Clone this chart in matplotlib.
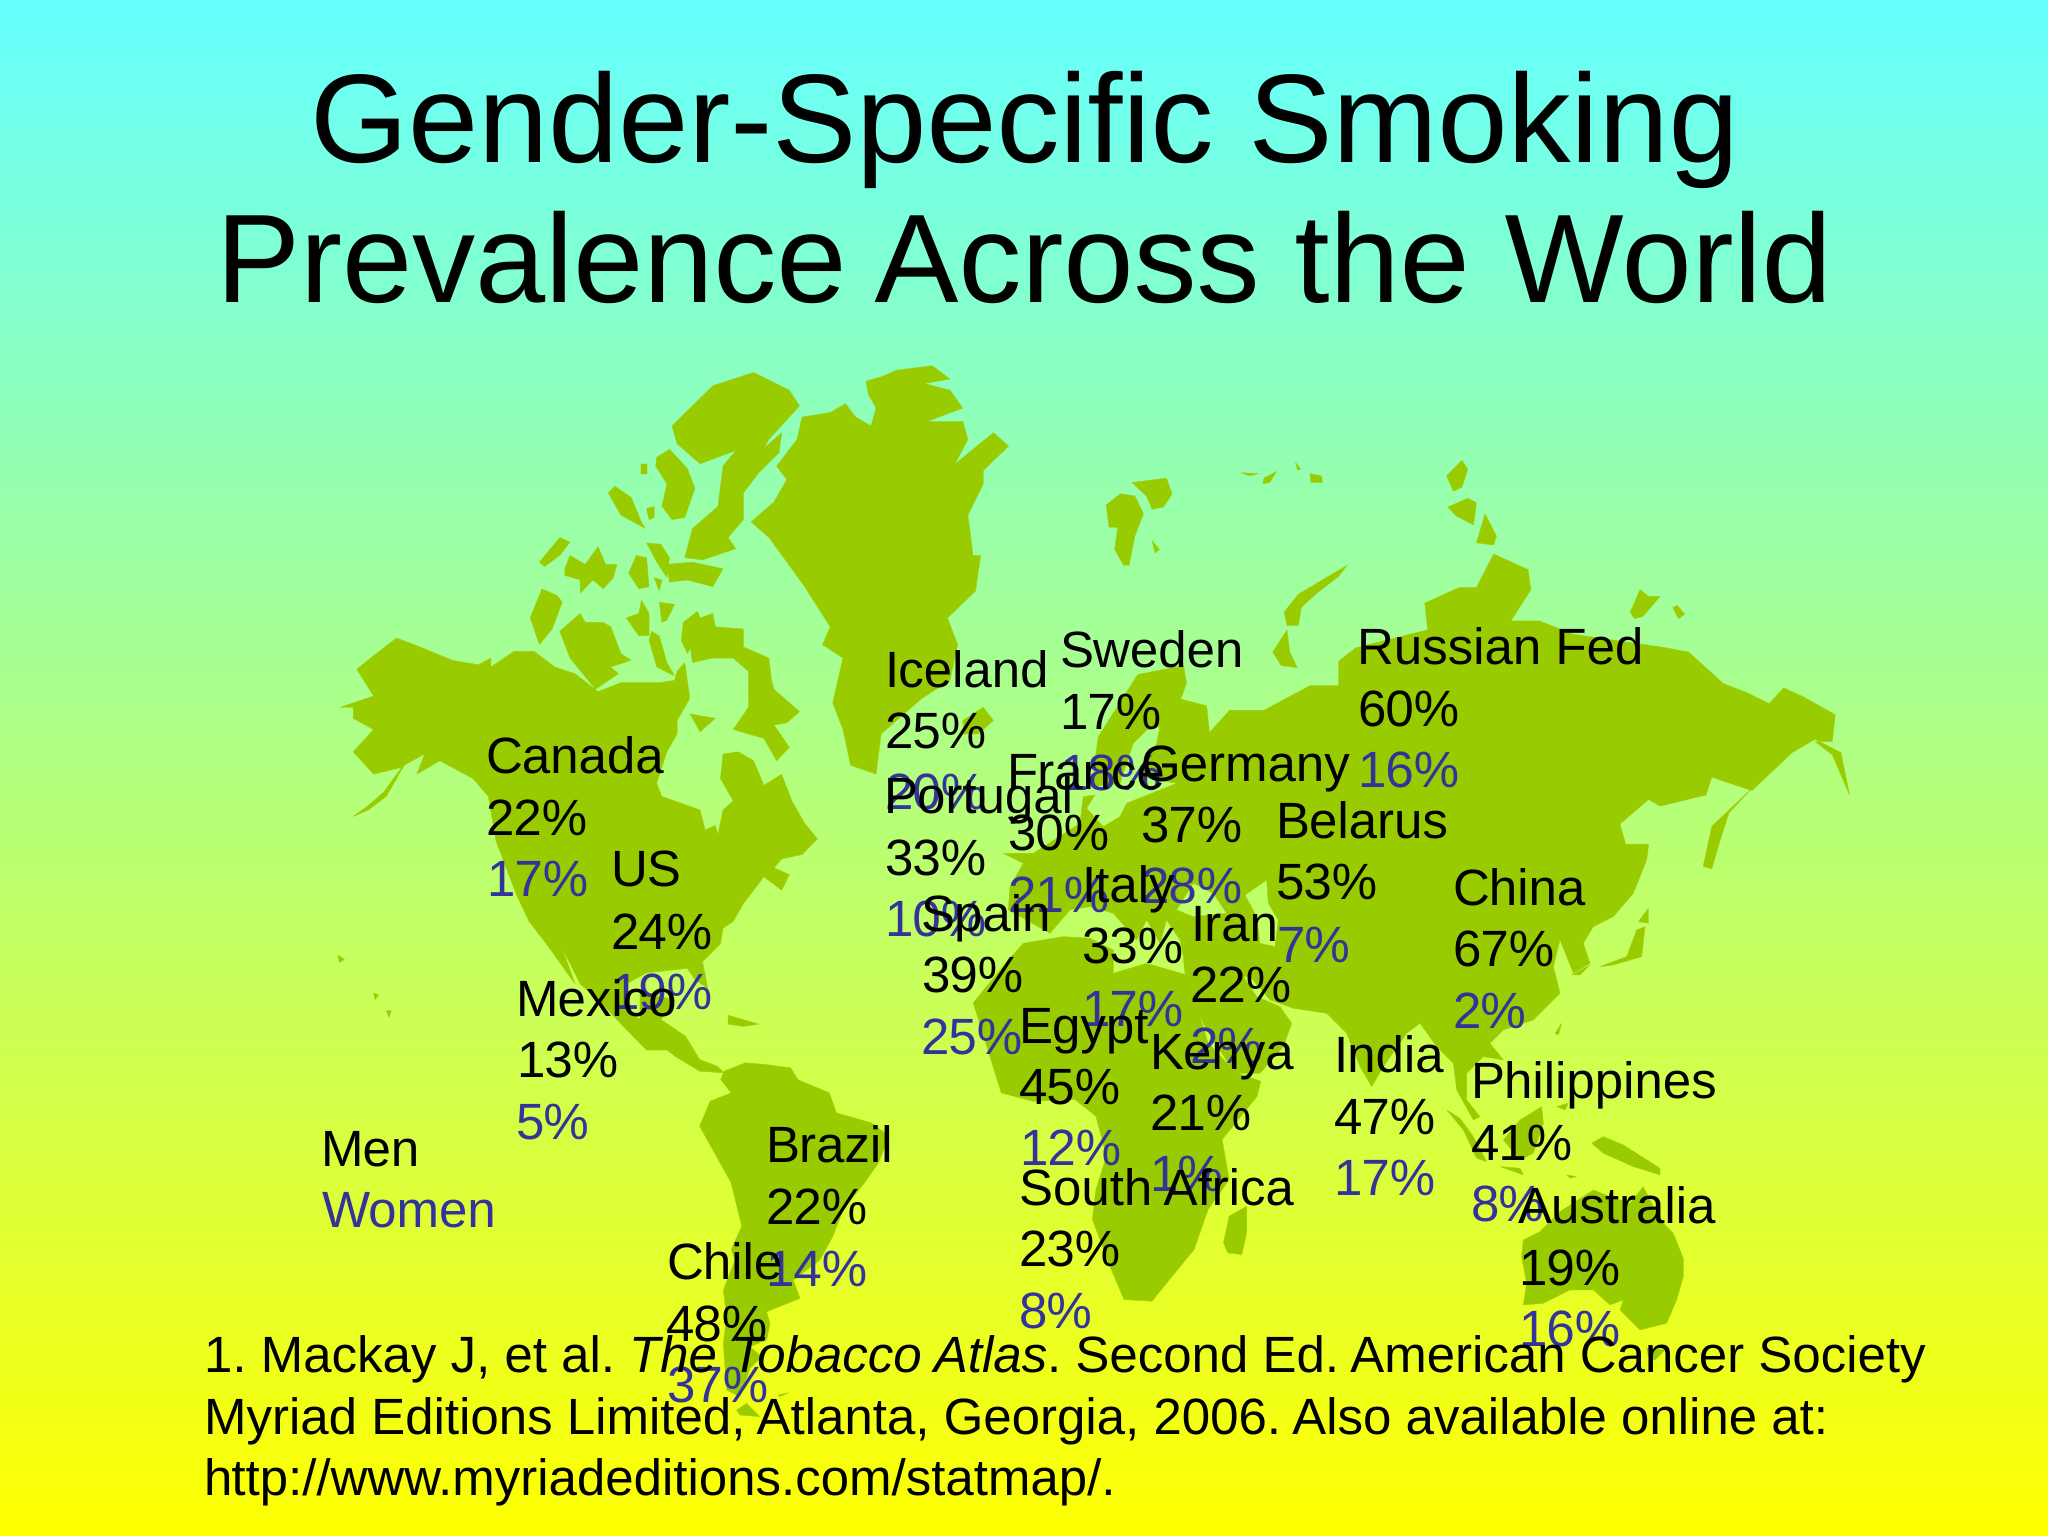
import numpy as np
import matplotlib
matplotlib.use("Agg")
import matplotlib.pyplot as plt
from matplotlib.path import Path
from matplotlib.patches import PathPatch

plt.rcParams['font.family'] = ['Liberation Sans', 'DejaVu Sans']
plt.rcParams['text.hinting'] = 'no_hinting'
plt.rcParams['text.hinting_factor'] = 1

countries = ["Iceland","Sweden","Russian Fed","Canada","France","Germany","Portugal","Belarus","US","China",
             "Italy","Spain","Iran","Mexico","Egypt","Kenya","India","Philippines","Brazil","South Africa","Australia","Chile"]
men   = [25,17,60,22,30,37,33,53,24,67,33,39,22,13,45,21,47,41,22,23,19,48]
women = [20,18,16,17,21,28,10,7,19,2,17,25,2,5,12,1,17,8,14,8,16,37]
label_x = [677,811,1039,372,771,873,677,977,467,1112,828,705,911,395,780,880,1021,1126,586,780,1162,510]
label_y = [526,511,509,592,604,598,623,642,679,693,691,713,720,778,798,818,821,841,890,923,937,980]

title_lines = ["Gender-Specific Smoking", "Prevalence Across the World"]
legend_labels = ["Men", "Women"]
footer_line2 = "Myriad Editions Limited, Atlanta, Georgia, 2006. Also available online at:"
footer_line3 = "http://www.myriadeditions.com/statmap/."

# base-map outline, traced in local frames of the picture
F1 = (245.0, 268.0, .3906, .3418)
F2 = (765.6, 321.6, .4395, .3418)
F3 = (490.0, 727.0, .537, .2552)
F4 = (750.3, 520.6, .2552, .2552)
F5 = (949.4, 658.4, .2552, .2552)
F6 = (1133.1, 903.4, .2552, .2552)
F7 = (505.3, 949.4, .2552, .2552)

def tr(frame, pts):
    a = np.array(pts, float)
    return np.column_stack([frame[0] + a[:, 0]*frame[2], frame[1] + a[:, 1]*frame[3]])

north_america = tr(F1, [(72,715),(110,680),(150,645),(185,660),(260,695),(310,705),(335,690),(335,710),(380,675),(420,675),(460,710),(500,725),(545,765),(590,745),(640,745),(665,745),(695,740),(700,720),(715,700),(725,780),(700,830),(700,860),(680,900),(660,970),(670,1000),(745,1030),(755,1075),(775,1065),(780,1085),(790,1030),(810,1010),(785,960),(790,905),(820,900),(850,920),(870,975),(905,950),(925,1010),(950,1060),(975,1095),(945,1130),(905,1140),(890,1160),(920,1175),(905,1210),(870,1180),(830,1240),(810,1280),(790,1295),(785,1330),(750,1370),(760,1430),(735,1410),(720,1385),(640,1395),(600,1420),(610,1490),(650,1510),(680,1520),(700,1568),(640,1568),(590,1510),(550,1460),(510,1420),(475,1340),(500,1420),(450,1340),(410,1280),(385,1220),(345,1100),(330,1000),(300,960),(235,920),(190,950),(205,905),(165,930),(130,1000),(95,1030),(65,1045),(95,1020),(125,990),(160,935),(105,950),(65,900),(105,850),(65,825),(65,800),(40,800),(105,775)])
central_america = tr(F3, [(0,130),(50,150),(30,210),(65,260),(85,330),(110,350),(120,370),(85,365),(50,320),(20,270),(0,230)])
south_america = np.vstack([
    tr(F3, [(120,365),(150,340),(180,345),(215,355),(225,390),(270,430),(280,490),(330,520),(355,560),(340,640),(320,700),(290,780),(275,860)]),
    tr(F7, [(480,60),(400,120),(420,175),(320,215),(330,250),(320,300),(270,320),(305,350),(270,385),(240,470),(200,450),(190,310),(200,230),(190,150),(225,60)]),
    tr(F3, [(130,900),(145,830),(130,700),(85,530),(100,455),(130,430),(115,390)]),
])
tierra = tr(F7, [(230,510),(260,490),(300,530),(240,525)])
falkland = tr(F7, [(355,465),(385,458),(360,470)])
greenland = tr(F1, [(1130,45),(1200,35),(1235,65),(1185,75),(1235,90),(1260,130),(1190,160),(1260,160),(1270,200),(1245,255),(1320,185),(1350,215),(1300,270),(1300,300),(1270,370),(1280,460),(1295,460),(1285,540),(1230,600),(1250,660),(1235,740),(1180,780),(1100,860),(1090,950),(1040,930),(1025,850),(1005,790),(1025,690),(985,660),(1000,620),(950,530),(880,420),(845,385),(890,340),(915,290),(895,260),(935,200),(945,150),(1000,140),(1030,120),(1050,150),(1080,170),(1090,130),(1075,100),(1070,70),(1100,60)])
iceland = tr(F1, [(1260,830),(1300,800),(1320,830),(1290,860),(1262,860)])
arctic_isles = [tr(F1, p) for p in [
    [(690,170),(770,80),(850,50),(920,90),(940,125),(880,200),(870,220),(905,185),(900,230),(860,275),(830,320),(830,380),(800,420),(815,445),(750,470),(715,465),(730,400),(780,350),(790,260),(815,225),(745,255),(700,210)],
    [(660,240),(685,222),(720,265),(735,310),(715,375),(690,380),(670,350),(680,300),(658,260)],
    [(565,320),(578,305),(610,330),(630,385),(638,400),(590,370)],
    [(630,255),(640,255),(640,278),(630,278)],
    [(640,355),(655,350),(655,375),(645,380)],
    [(430,475),(470,420),(490,430),(470,460),(440,485)],
    [(480,490),(490,460),(520,480),(545,440),(560,480),(582,480),(575,510),(555,535),(535,515),(510,545),(510,515),(480,505)],
    [(605,500),(620,460),(640,465),(645,530),(625,535)],
    [(640,432),(668,435),(685,465),(680,510),(660,475)],
    [(680,480),(730,475),(790,490),(770,530),(720,515),(685,520)],
    [(655,510),(670,515),(665,540)],
    [(412,600),(435,535),(465,550),(475,565),(455,625),(430,660)],
    [(480,620),(510,590),(520,610),(555,610),(570,620),(590,680),(610,695),(570,710),(585,725),(540,760),(490,690),(470,630)],
    [(600,600),(625,590),(630,560),(645,590),(645,640),(625,640)],
    [(665,565),(695,570),(680,605),(670,610)],
    [(650,630),(665,640),(680,700),(695,730),(660,710),(645,650)],
    [(712,610),(740,585),(745,600),(730,660),(720,680),(708,650)],
    [(745,600),(770,590),(775,620),(830,625),(830,665),(880,690),(885,740),(890,760),(940,810),(915,835),(890,840),(920,890),(895,920),(870,870),(810,850),(840,800),(840,720),(810,690),(770,690),(730,700),(725,660)],
    [(725,815),(775,825),(745,855)],
    [(800,1490),(860,1510),(830,1515),(800,1510)],
    [(35,1355),(48,1365),(38,1372)],[(105,1440),(115,1445),(108,1455)],[(130,1480),(140,1480),(135,1495)],
]]
africa = np.vstack([
    tr(F4, [(85,840),(130,790),(250,770),(330,775),(400,810),(400,880),(500,850),(620,885),(650,970),(690,1030)]),
    tr(F3, [(795,180),(810,280),(850,370),(885,395),(880,440),(830,570),(840,690),(810,780),(790,900),(755,990),(730,1055),(690,1050),(670,950),(645,810),(650,720),(665,620),(650,500),(620,450),(560,455),(515,430),(490,260),(475,160)]),
])
eurasia = np.vstack([
    tr(F4, [(355,170),(345,240),(340,320),(420,310),(460,190),(500,150),(540,140),(530,190),(480,290),(590,310),(490,350),(440,370),(420,410),(370,440),(320,385),(345,345),(310,350),(300,430),(160,520),(70,520),(130,550),(90,620),(85,690),(210,760),(270,690),(330,680),(400,700),(470,780),(500,720),(540,790),(560,720),(600,780),(610,830),(615,880)]),
    tr(F5, [(-140,430),(-100,510),(-15,640),(60,640),(130,560),(155,490),(120,440),(50,410),(10,350),(30,350),(90,420),(160,445),(260,460),(320,520),(360,620),(395,680),(430,620),(500,520),(540,490),(590,560),(640,610),(650,690),(700,780),(720,770),(680,720),(680,640),(730,590),(790,600),(750,550),(790,510),(880,480),(960,400),(940,320),(960,240),(1000,340),(1050,310),(1030,250),(1060,200),(1120,170),(1180,100),(1220,0)]),
    tr(F2, [(1130,950),(1090,950),(1080,905),(1130,850),(1150,865),(1230,840),(1240,800),(1310,830),(1380,745),(1420,715),(1465,745),(1480,840),(1450,750),(1420,720),(1450,720),(1455,660),(1400,620),(1365,600),(1340,635),(1300,610),(1260,590),(1200,520),(1160,510),(1000,480),(940,450),(890,450),(925,380),(920,335),(860,300),(830,375),(800,375),(740,410),(745,470),(620,510),(590,540),(590,595),(540,595),(460,650),(400,650),(365,700),(360,640),(315,625),(325,590),(320,550),(240,570)]),
])
seas = [tr(F4, [(795,645),(860,600),(865,670),(895,720),(885,800),(840,790),(830,710)]),
        tr(F4, [(590,690),(640,610),(700,640),(740,700),(640,710)])]
asia_isles = [tr(F2, p) for p in [
    [(185,190),(210,165),(235,170),(250,210),(235,260),(225,325),(215,325),(200,290),(205,240),(190,240)],
    [(230,140),(290,130),(300,165),(285,195),(265,200),(255,170)],
    [(265,270),(278,290),(270,298)],[(420,118),(450,120),(435,125)],[(460,130),(482,115),(470,140),(458,143)],
    [(540,120),(560,125),(562,140),(542,140)],[(515,95),(524,110),(518,112)],
    [(778,125),(805,90),(815,110),(805,150),(790,160)],[(780,195),(815,175),(830,185),(825,235),(795,215)],
    [(830,275),(845,210),(865,260),(860,280)],
    [(495,430),(520,390),(605,325),(590,350),(550,390),(525,420),(520,460),(500,460)],
    [(475,520),(500,470),(505,520),(518,555),(490,550)],
    [(1098,430),(1115,380),(1130,395),(1150,395),(1120,440),(1105,445)],[(1172,420),(1180,415),(1193,435),(1182,445)],
    [(1225,1000),(1240,910),(1310,825),(1270,880),(1255,940),(1240,1005)],
]] + [tr(F5, p) for p in [
    [(1080,320),(1160,290),(1190,210),(1215,200),(1205,290),(1120,315)],
    [(1195,185),(1225,145),(1225,190)],[(995,345),(1050,315),(1020,345)],
    [(945,520),(965,490),(955,525)],
    [(620,750),(660,775),(700,830),(740,905),(710,895),(670,810)],
    [(840,780),(905,740),(910,790),(880,880),(840,900),(790,840)],
    [(950,740),(985,730),(975,750)],[(780,920),(840,925),(850,945)],[(980,945),(1010,950),(990,955)],
    [(1055,850),(1090,830),(1150,855),(1260,925),(1260,945),(1180,920),(1090,880)],
]]
oceania = [tr(F6, [(130,180),(180,155),(240,95),(340,30),(390,50),(450,70),(490,20),(520,80),(540,120),(580,160),(610,235),(610,290),(590,360),(560,430),(480,450),(450,420),(420,390),(430,360),(390,375),(340,330),(270,330),(190,370),(130,375),(140,310),(125,230)]),
           tr(F6, [(500,505),(555,510),(525,540),(505,530)]),
           tr(F3, [(840,800),(865,770),(865,850),(858,915),(838,910),(832,880)])]

GREEN = '#99CC00'; BLUE = '#333399'; W, H = 1568, 1176

fig = plt.figure(figsize=(20.48, 15.36), dpi=100)
ax = fig.add_axes([0, 0, 1, 1])
ax.set_xlim(0, W); ax.set_ylim(H, 0); ax.axis('off')

t = np.linspace(0, 1, 512)[:, None, None]
grad = (1 - t) * np.array([102, 255, 255])[None, None, :] / 255 + t * np.array([255, 255, 0])[None, None, :] / 255
ax.imshow(grad, extent=(0, W, H, 0), aspect='auto', zorder=0, interpolation='bilinear')

def area(p):
    x, y = p[:, 0], p[:, 1]
    return np.sum(x * np.roll(y, -1) - np.roll(x, -1) * y)

def patch(outer, holes=()):
    verts, codes = [], []
    s = np.sign(area(outer))
    for k, p in enumerate([outer] + list(holes)):
        if k and np.sign(area(p)) == s:
            p = p[::-1]
        verts += list(p) + [p[0]]
        codes += [Path.MOVETO] + [Path.LINETO] * (len(p) - 1) + [Path.CLOSEPOLY]
    ax.add_patch(PathPatch(Path(np.array(verts), codes), fc=GREEN, ec=GREEN, lw=0.3, zorder=1))

for shape in [north_america, central_america, south_america, tierra, falkland, greenland, iceland, africa, *arctic_isles, *asia_isles, *oceania]:
    patch(shape)
patch(eurasia, seas)

TXT = dict(fontsize=36.7, va='baseline', ha='left', zorder=3)
PITCH = 47
for name, m, w, x, y in zip(countries, men, women, label_x, label_y):
    ax.text(x, y, name, color='black', **TXT)
    ax.text(x, y + PITCH, f"{m}%", color='black', **TXT)
    ax.text(x, y + 2 * PITCH, f"{w}%", color=BLUE, **TXT)

ax.text(246, 892, legend_labels[0], color='black', **TXT)
ax.text(246, 939, legend_labels[1], color=BLUE, **TXT)

ax.text(784, 124, title_lines[0], fontsize=90.6, ha='center', va='baseline', color='black', zorder=4)
ax.text(784, 231, title_lines[1], fontsize=90.6, ha='center', va='baseline', color='black', zorder=4)

# footer: first line is three runs, the middle one italic
r = fig.canvas.get_renderer()
x = 156
for run, style in [("1. Mackay J, et al. ", 'normal'), ("The Tobacco Atlas", 'italic'), (". Second Ed. American Cancer Society", 'normal')]:
    tx = ax.text(x, 1051, run, style=style, color='black', **{**TXT, 'zorder': 4})
    adv = r.get_text_width_height_descent(run, tx.get_fontproperties(), False)[0]
    x += adv * W / 2048
ax.text(156, 1098, footer_line2, color='black', **{**TXT, 'zorder': 4})
ax.text(156, 1145, footer_line3, color='black', **{**TXT, 'zorder': 4})

fig.savefig('out.png', dpi=100)
